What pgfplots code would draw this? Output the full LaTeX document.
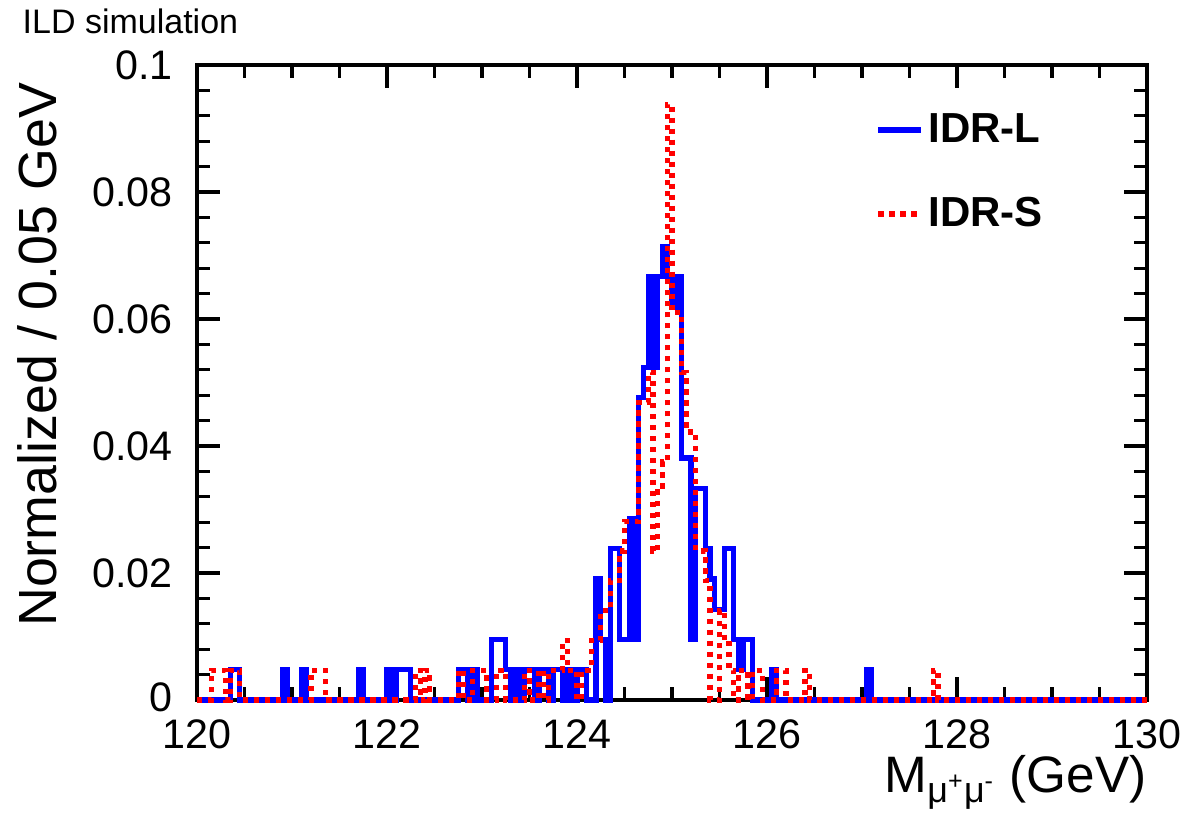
\documentclass[border=0pt]{standalone}
\usepackage{pgfplots}
\pgfplotsset{compat=1.18}
\usepackage{fontspec}
\setmainfont{Liberation Sans}
\definecolor{rootblue}{RGB}{0,0,255}
\definecolor{rootred}{RGB}{255,0,0}
\begin{document}
\begin{tikzpicture}
\begin{axis}[
  scale only axis, width=380pt, height=254pt,
  xmin=120, xmax=130, ymin=0, ymax=0.1,
  clip=false,
  axis line style={line width=1.8pt},
  xtick={120,122,124,126,128,130}, xticklabels={120,122,124,126,128,130},
  minor x tick num=3,
  ytick={0,0.02,0.04,0.06,0.08,0.1}, yticklabels={\raisebox{2pt}{0},0.02,0.04,0.06,0.08,0.1},
  minor y tick num=4,
  tick align=inside, xtick pos=both, ytick pos=both,
  major tick length=9pt, minor tick length=5pt,
  major tick style={black, line width=1.8pt},
  minor tick style={black, line width=1.3pt},
  tick label style={font=\fontsize{16.5}{19}\selectfont, inner sep=1pt},
  yticklabel style={xshift=-8.5pt},
  xticklabel style={yshift=-6.5pt},
  legend style={draw=none, fill=none, at={(rel axis cs:0.706,0.94)}, anchor=north west,
    font=\fontsize{16.8}{19}\selectfont\bfseries, row sep=16.5pt},
  legend image code/.code={\draw[#1] (0pt,0pt) -- (17pt,0pt);},
  legend cell align=left,
]
\addplot[const plot, rootblue, line width=2.1pt] coordinates {
(120.00,0) (120.35,0.00476) (120.45,0) (120.90,0.00476) (120.95,0)
(121.10,0.00476) (121.15,0) (121.70,0.00476) (121.75,0)
(122.00,0.00476) (122.05,0) (122.10,0.00476) (122.25,0)
(122.75,0.00476) (122.85,0) (122.90,0.00476) (122.95,0)
(123.10,0.00952) (123.25,0.00476) (123.30,0) (123.35,0.00476) (123.40,0)
(123.45,0.00476) (123.55,0) (123.60,0.00476) (123.70,0)
(123.75,0.00476) (123.85,0) (123.90,0.00476) (123.95,0)
(124.00,0.00476) (124.10,0)
(124.20,0.01905) (124.25,0.00952) (124.30,0) (124.35,0.02381)
(124.45,0.00952) (124.55,0.02857) (124.60,0.00952) (124.65,0.04762)
(124.70,0.05238) (124.75,0.06667) (124.80,0.05238) (124.85,0.06667)
(124.90,0.07143) (124.95,0.06667) (125.00,0.06190) (125.05,0.06667)
(125.10,0.03810) (125.20,0.00952) (125.25,0.03333) (125.35,0.02381)
(125.40,0.01905) (125.45,0.01429) (125.55,0.02381) (125.65,0.00952)
(125.70,0.00476) (125.75,0.00952) (125.85,0)
(126.05,0.00476) (126.10,0) (127.05,0.00476) (127.10,0) (130.00,0)
};
\addlegendentry{IDR-L}
\addplot[const plot, rootred, line width=2.1pt, dash pattern=on 2.1pt off 2.3pt] coordinates {
(120.00,0) (120.15,0.00469) (120.30,0) (120.35,0.00469) (120.45,0)
(121.20,0.00469) (121.35,0) (122.30,0.00469) (122.35,0)
(122.40,0.00469) (122.45,0) (122.75,0.00469) (122.80,0)
(122.90,0.00469) (123.05,0) (123.15,0.00469) (123.25,0)
(123.45,0.00469) (123.50,0) (123.60,0.00469) (123.65,0)
(123.70,0.00469) (123.85,0.00938) (123.90,0.00469) (124.00,0)
(124.05,0.00469) (124.15,0.00938) (124.25,0.01407) (124.35,0.01876)
(124.45,0.02345) (124.50,0.02814) (124.65,0.04690) (124.75,0.05159)
(124.80,0.02345) (124.85,0.03283) (124.90,0.03752) (124.95,0.09380)
(125.00,0.06097) (125.10,0.05159) (125.15,0.04221) (125.25,0.02345)
(125.35,0.01876) (125.40,0) (125.50,0.01407) (125.55,0.00938)
(125.60,0.00469) (125.65,0) (125.70,0.00469) (125.80,0)
(125.85,0.00469) (125.95,0) (126.10,0.00469) (126.20,0)
(126.40,0.00469) (126.45,0) (127.75,0.00469) (127.80,0) (130.00,0)
};
\addlegendentry{IDR-S}
\node[xshift=-64pt, yshift=-7pt, rotate=90, anchor=east, inner sep=0pt,
  font=\fontsize{21.5}{25}\selectfont] at (rel axis cs:0,1) {Normalized / 0.05 GeV};
\node[anchor=north east, inner sep=0pt, yshift=-22pt,
  font=\fontsize{20.5}{24}\selectfont] at (rel axis cs:1,0)
  {M\textsubscript{μ\textsuperscript{+}μ\textsuperscript{-}} (GeV)};
\node[anchor=base west, inner sep=0pt, font=\fontsize{13.6}{16}\selectfont]
  at (rel axis cs:-0.184,1.0504) {ILD simulation};
\coordinate (bl) at (rel axis cs:-0.2074,-0.2079);
\coordinate (tr) at (rel axis cs:1.0516,1.1024);
\end{axis}
\path (bl) rectangle (tr);
\end{tikzpicture}
\end{document}
